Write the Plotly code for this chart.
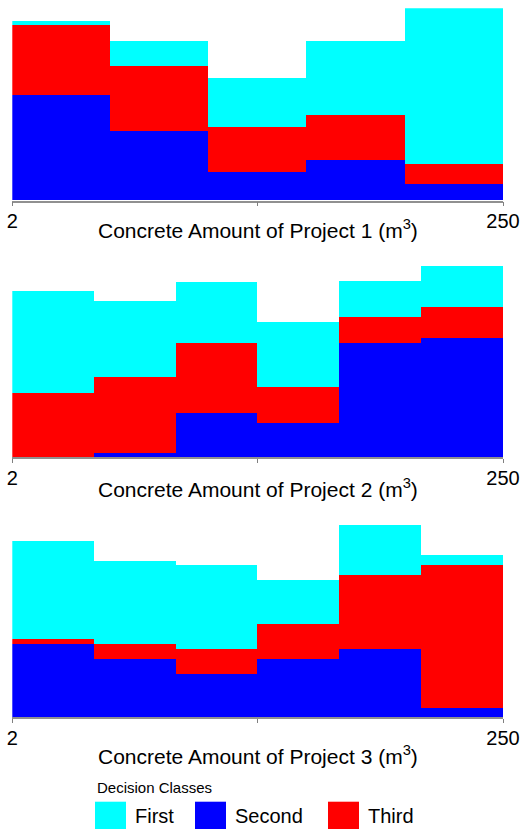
import plotly.graph_objects as go

# ---- data (relative frequencies) ----
x_min, x_max = 2, 250
projects = ["Project 1", "Project 2", "Project 3"]
classes = ["Second", "Third", "First"]          # stacking order bottom -> top
class_colors = {"First": "#00FFFF", "Second": "#0000FF", "Third": "#FF0000"}
legend_order = ["First", "Second", "Third"]

p1_second = [317, 207, 84, 121, 49]
p1_third = [210, 195, 136, 136, 60]
p1_first = [12, 75, 147, 222, 468]

p2_second = [0, 15, 135, 104, 345, 360]
p2_third = [194, 227, 210, 108, 77, 92]
p2_first = [306, 227, 182, 195, 107, 123]

p3_second = [220, 175, 130, 175, 205, 27]
p3_third = [15, 44, 75, 104, 221, 429]
p3_first = [295, 251, 252, 133, 151, 31]

data = [
    {"Second": p1_second, "Third": p1_third, "First": p1_first},
    {"Second": p2_second, "Third": p2_third, "First": p2_first},
    {"Second": p3_second, "Third": p3_third, "First": p3_first},
]
tick_vals = [2, 250]
tick_text = ["2", "250"]
mid_tick = [126]

# ---- layout geometry (pixels) ----
W, H = 520, 829
def py(p):
    return 1 - p / H

x_dom = [12.3 / W, 503 / W]
y_doms = [(200.7, 8.3), (457.3, 265.7), (717.3, 525.0)]
title_y = [229, 488, 755]

fig = go.Figure()
FONT = "Liberation Sans, Arial, Helvetica, sans-serif"

for i, d in enumerate(data):
    n = len(d["First"])
    w = (x_max - x_min) / n
    centers = [x_min + w * (k + 0.5) for k in range(n)]
    ax = "" if i == 0 else str(i + 1)
    for c in classes:
        fig.add_trace(go.Bar(
            x=centers, y=d[c], width=w, name=c,
            marker=dict(color=class_colors[c], line=dict(width=0)),
            xaxis="x" + ax, yaxis="y" + ax, showlegend=False,
        ))
    totals = [sum(d[c][k] for c in classes) for k in range(n)]
    b, t = y_doms[i]
    fig.layout["xaxis" + ax] = dict(
        domain=x_dom, range=[x_min, x_max], anchor="y" + ax, automargin=False,
        tickmode="array", tickvals=tick_vals, ticktext=tick_text,
        ticks="outside", ticklen=4, ticklabelstandoff=-2,
        tickcolor="#808080", tickwidth=1, showline=True, linecolor="#909090",
        linewidth=1.5, showgrid=False, zeroline=False,
        minor=dict(tickmode="array", tickvals=mid_tick, ticks="outside",
                   ticklen=4, tickcolor="#808080", tickwidth=1, showgrid=False),
        tickfont=dict(family=FONT, size=20, color="black"),
    )
    fig.layout["yaxis" + ax] = dict(
        domain=[py(b), py(t)], range=[0, max(totals)], anchor="x" + ax,
        automargin=False, visible=False, showgrid=False, zeroline=False,
    )
    fig.add_annotation(
        text=f"Concrete Amount of {projects[i]} (m<sup>3</sup>)",
        x=257.7 / W, y=py(title_y[i]), xref="paper", yref="paper",
        xanchor="center", yanchor="middle", showarrow=False,
        font=dict(family=FONT, size=21, color="black"),
    )

# ---- legend drawn as swatches ----
fig.add_annotation(
    text="Decision Classes", x=95 / W, y=py(787), xref="paper", yref="paper",
    xanchor="left", yanchor="middle", showarrow=False,
    font=dict(family=FONT, size=15, color="black"),
)
sw_left = [95, 195, 328]
for name, x0 in zip(legend_order, sw_left):
    fig.add_shape(type="rect", xref="paper", yref="paper",
                  x0=x0 / W, x1=(x0 + 31) / W, y0=py(829), y1=py(801.7),
                  fillcolor=class_colors[name], line=dict(width=0))
    fig.add_annotation(
        text=name, x=(x0 + 38) / W, y=py(816), xref="paper", yref="paper",
        xanchor="left", yanchor="middle", showarrow=False,
        font=dict(family=FONT, size=20, color="black"),
    )

fig.update_layout(
    width=W, height=H, margin=dict(l=0, r=0, t=0, b=0, autoexpand=False),
    barmode="stack", bargap=0, paper_bgcolor="white", plot_bgcolor="white",
    showlegend=False,
)
fig.write_html("out.html", config={"displayModeBar": False},
               post_script="document.body.style.margin='0';")
